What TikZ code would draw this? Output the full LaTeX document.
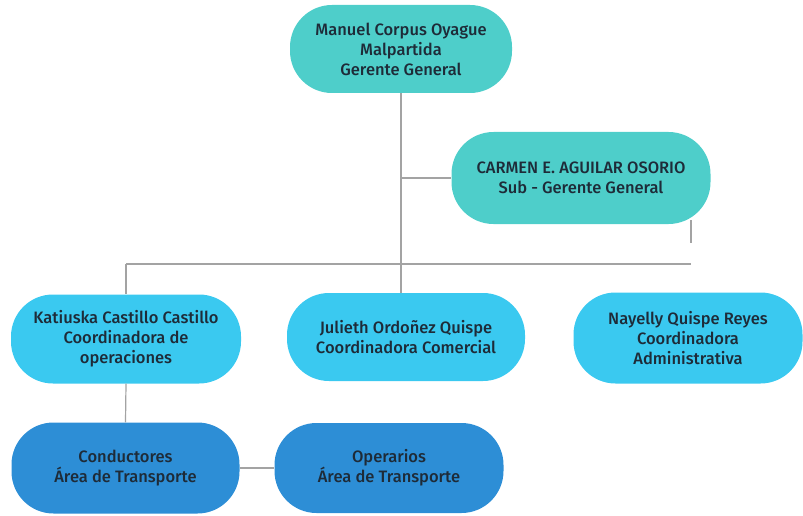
\documentclass[tikz,border=0pt]{standalone}
\usepackage{fontspec}
\setmainfont{Fira Sans}[UprightFont=* Medium]
\usepackage{tikz}
\definecolor{tealbox}{HTML}{4ECECA}
\definecolor{skybox}{HTML}{3AC9F0}
\definecolor{bluebox}{HTML}{2D8ED6}
\definecolor{inkline}{HTML}{A3A3A3}
\definecolor{inktext}{HTML}{1E2B38}

\begin{document}
\begin{tikzpicture}[x=1pt,y=-1pt,
  box/.style={rectangle,rounded corners=42pt,draw=none,align=center,
    text=inktext,font=\fontsize{16.5}{20}\selectfont,inner sep=0pt},
  link/.style={draw=inkline,line width=1.2pt}]
\useasboundingbox (0,0) rectangle (803,516);

\node [box,fill=tealbox,minimum width=222pt,minimum height=88pt] (gerente) at (401,49)
  {Manuel Corpus Oyague\\Malpartida\\Gerente General};
\node [box,fill=tealbox,minimum width=259pt,minimum height=92pt] (subgerente) at (581,178)
  {CARMEN E. AGUILAR OSORIO\\Sub - Gerente General};
\node [box,fill=skybox,minimum width=230pt,minimum height=89pt] (katiuska) at (126,339)
  {Katiuska Castillo Castillo\\Coordinadora de\\operaciones};
\node [box,fill=skybox,minimum width=238pt,minimum height=88pt] (julieth) at (406,337)
  {Julieth Ordoñez Quispe\\Coordinadora Comercial};
\node [box,fill=skybox,minimum width=229pt,minimum height=91pt] (nayelly) at (688,338)
  {Nayelly Quispe Reyes\\Coordinadora\\Administrativa};
\node [box,fill=bluebox,minimum width=228pt,minimum height=91pt] (conductores) at (125.5,468)
  {Conductores\\Área de Transporte};
\node [box,fill=bluebox,minimum width=229pt,minimum height=90pt] (operarios) at (389,468)
  {Operarios\\Área de Transporte};

\coordinate (barR) at (691,264);
\coordinate (stubend) at (691,243);

\draw [link] (gerente.south) -- (gerente.south |- julieth.north);
\draw [link] (gerente.south |- subgerente.west) -- (subgerente.west);
\draw [link] (subgerente.south -| stubend) ++(0,-4) -- (stubend);
\draw [link] (katiuska.north |- barR) -- (barR);
\draw [link] (katiuska.north |- barR) -- (katiuska.north);
\draw [link] (katiuska.south) -- (conductores.north);
\draw [link] (conductores.east) -- (operarios.west);
\end{tikzpicture}
\end{document}
